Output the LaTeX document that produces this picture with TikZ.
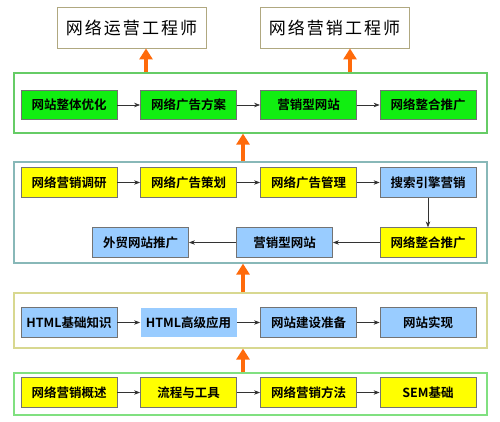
\documentclass[tikz,border=0pt]{standalone}
\usepackage{fontspec}
\setmainfont{Noto Sans CJK SC}[BoldFont={* Bold}]
\newfontfamily\cjktop{Noto Sans CJK SC}[LetterSpace=12]
\usetikzlibrary{arrows.meta}
\definecolor{boxgreen}{HTML}{11EE11}
\definecolor{boxyellow}{HTML}{FFFF00}
\definecolor{boxblue}{HTML}{99CCFF}
\definecolor{myorange}{HTML}{FF6A0A}
\definecolor{fgreen}{HTML}{66CC66}
\definecolor{fteal}{HTML}{88B8B8}
\definecolor{fyellow}{HTML}{D8D890}
\definecolor{flgreen}{HTML}{80E080}
\definecolor{topborder}{HTML}{B0A880}
\tikzset{
  x=1pt,y=-1pt,
  box/.style={draw=black!55,line width=0.8pt,minimum width=96pt,minimum height=29.5pt,inner sep=0pt,font=\bfseries\fontsize{12.5}{13}\selectfont},
  gbox/.style={box,fill=boxgreen},
  ybox/.style={box,fill=boxyellow},
  bbox/.style={box,fill=boxblue},
  topbox/.style={draw=topborder,line width=0.9pt,minimum width=149pt,minimum height=41pt,inner sep=0pt,font=\cjktop\fontsize{17}{18}\selectfont},
  frame/.style={line width=1.2pt,minimum width=473pt,inner sep=0pt},
  flow/.style={-{Stealth[length=6pt,width=4.5pt]},line width=0.7pt,black!80},
  up/.style={-{Triangle[length=11pt,width=13pt]},line width=4.5pt,myorange},
}
\begin{document}
\begin{tikzpicture}
\useasboundingbox (0,0) rectangle (500,421);
% frames
\node[frame,draw=fgreen,minimum height=60pt] (f1) at (250.5,103) {};
\node[frame,draw=fteal,minimum height=101pt] (f2) at (250.5,212.5) {};
\node[frame,draw=fyellow,minimum height=55pt] (f3) at (250.5,320.5) {};
\node[frame,draw=flgreen,minimum height=42pt] (f4) at (250.5,394) {};
% top boxes
\node[topbox] (t1) at (131.5,27.5) {网络运营工程师};
\node[topbox] (t2) at (334.5,27.5) {网络营销工程师};
% row 1
\node[gbox] (a1) at (69,105) {网站整体优化};
\node[gbox] (a2) at (188.5,105) {网络广告方案};
\node[gbox] (a3) at (308.5,105) {营销型网站};
\node[gbox] (a4) at (428,105) {网络整合推广};
% row 2a
\node[ybox] (b1) at (69,182.5) {网络营销调研};
\node[ybox] (b2) at (188.5,182.5) {网络广告策划};
\node[ybox] (b3) at (308.5,182.5) {网络广告管理};
\node[bbox] (b4) at (428,182.5) {搜索引擎营销};
% row 2b
\node[ybox] (c3) at (428,242.5) {网络整合推广};
\node[bbox] (c2) at (284.5,242.5) {营销型网站};
\node[bbox] (c1) at (140.5,242.5) {外贸网站推广};
% row 3
\node[bbox] (d1) at (69,322.5) {HTML基础知识};
\node[bbox,draw=none] (d2) at (188.5,322.5) {HTML高级应用};
\node[bbox] (d3) at (308.5,322.5) {网站建设准备};
\node[bbox] (d4) at (428,322.5) {网站实现};
% row 4
\node[ybox] (e1) at (69,392.5) {网络营销概述};
\node[ybox] (e2) at (188.5,392.5) {流程与工具};
\node[ybox] (e3) at (308.5,392.5) {网络营销方法};
\node[ybox] (e4) at (428,392.5) {SEM基础};
% flow arrows
\draw[flow] (a1) -- (a2);
\draw[flow] (a2) -- (a3);
\draw[flow] (a3) -- (a4);
\draw[flow] (b1) -- (b2);
\draw[flow] (b2) -- (b3);
\draw[flow] (b3) -- (b4);
\draw[flow] (b4) -- (c3);
\draw[flow] (c3) -- (c2);
\draw[flow] (c2) -- (c1);
\draw[flow] (d1) -- (d2);
\draw[flow] (d2) -- (d3);
\draw[flow] (d3) -- (d4);
\draw[flow] (e1) -- (e2);
\draw[flow] (e2) -- (e3);
\draw[flow] (e3) -- (e4);
% orange arrows
\coordinate (o1) at (146,0);
\coordinate (o2) at (350,0);
\coordinate (o3) at (243,0);
\draw[up] (f1.north -| o1) -- (t1.south -| o1);
\draw[up] (f1.north -| o2) -- (t2.south -| o2);
\draw[up] (f2.north -| o3) -- (f1.south -| o3);
\draw[up] (f3.north -| o3) -- (f2.south -| o3);
\draw[up] (f4.north -| o3) -- (f3.south -| o3);
\end{tikzpicture}
\end{document}
